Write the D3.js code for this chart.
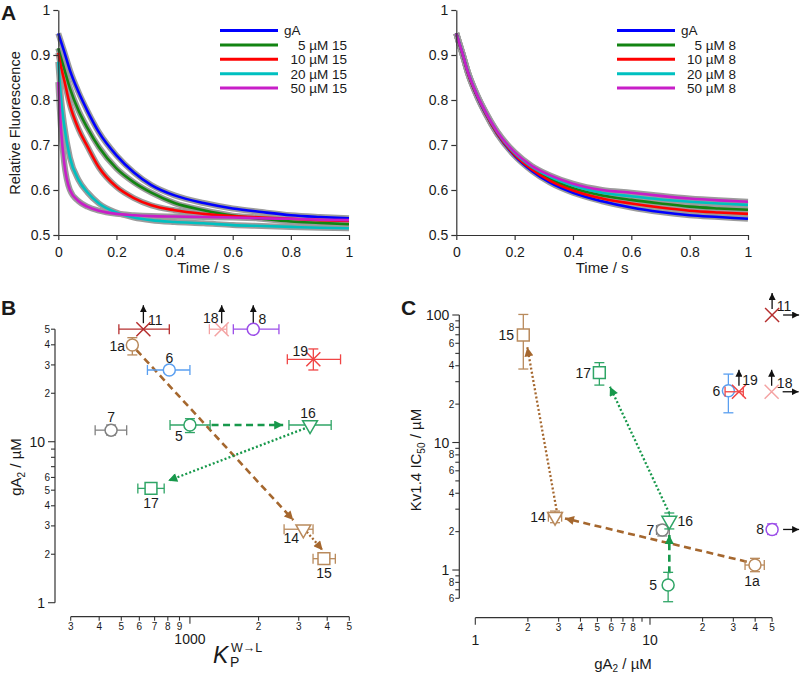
<!DOCTYPE html>
<html><head><meta charset="utf-8">
<script src="https://cdn.jsdelivr.net/npm/d3@7"></script>
<style>
body{margin:0;background:#fff}
svg{display:block}
text{font-family:"Liberation Sans",Arial,sans-serif;fill:#1a1a1a}
</style>
</head><body>
<svg id="chart" width="800" height="676"></svg>
<script>
// ---------------- DATA ----------------
// Panel A: time points (s) and relative fluorescence
const aTime = [0,0.01,0.02,0.04,0.07,0.1,0.14,0.2,0.26,0.32,0.4,0.5,0.6,0.7,0.8,0.9,1];
const aTimeTicks = [0,0.2,0.4,0.6,0.8,1];
const aFluorTicks = [0.5,0.6,0.7,0.8,0.9,1];

const left_gA   = [0.948,0.928,0.908,0.866,0.817,0.776,0.728,0.677,0.639,0.611,0.588,0.571,0.559,0.551,0.544,0.540,0.537];
const left_5uM  = [0.915,0.892,0.870,0.826,0.776,0.738,0.695,0.648,0.617,0.594,0.571,0.555,0.543,0.536,0.530,0.527,0.524];
const left_10uM = [0.905,0.872,0.845,0.789,0.735,0.697,0.650,0.607,0.582,0.566,0.555,0.547,0.542,0.539,0.536,0.533,0.531];
const left_20uM = [0.885,0.800,0.745,0.672,0.622,0.595,0.570,0.550,0.539,0.533,0.529,0.526,0.522,0.520,0.518,0.516,0.515];
const left_50uM = [0.840,0.730,0.662,0.600,0.575,0.563,0.554,0.547,0.544,0.542,0.541,0.540,0.539,0.537,0.536,0.534,0.533];

const right_gA   = [0.948,0.926,0.905,0.860,0.810,0.770,0.725,0.676,0.642,0.617,0.594,0.575,0.561,0.551,0.544,0.540,0.536];
const right_5uM  = [0.948,0.926,0.905,0.861,0.811,0.772,0.727,0.680,0.648,0.625,0.604,0.588,0.578,0.570,0.563,0.559,0.556];
const right_10uM = [0.948,0.926,0.905,0.860,0.811,0.771,0.726,0.678,0.645,0.621,0.599,0.581,0.570,0.561,0.554,0.550,0.547];
const right_20uM = [0.948,0.927,0.906,0.862,0.813,0.773,0.729,0.682,0.651,0.630,0.610,0.594,0.586,0.579,0.574,0.570,0.567];
const right_50uM = [0.948,0.927,0.906,0.862,0.813,0.774,0.730,0.684,0.653,0.633,0.614,0.600,0.594,0.587,0.581,0.577,0.574];

const legendLeft  = ["gA","5 µM 15","10 µM 15","20 µM 15","50 µM 15"];
const legendRight = ["gA","5 µM 8","10 µM 8","20 µM 8","50 µM 8"];

// Panel B: Kp(W->L) vs gA2 (µM)
const bIds   = ["11","18","8","1a","6","19","7","5","16","17","14","15"];
const bKp    = [625,1378,1896,559,812,3477,451,1000,3364,675,3144,3870];
const bKpLo  = [488,1217,1550,null,651,2674,384,818,2718,591,2588,3467];
const bKpHi  = [812,1451,2457,null,1000,4577,528,1226,4164,771,3467,4342];
const bGA    = [50,50,50,39.9,27.9,32.5,11.8,12.7,12.7,5.13,2.86,1.877];
const bGALo  = [null,null,null,34.6,null,27.9,11.0,11.4,null,null,null,null];
const bGAHi  = [null,null,null,44.3,null,37.7,12.7,13.9,null,null,null,null];
const bBoundUp = ["11","18","8"];
const bXTicks  = [300,400,500,600,700,800,900,1000,2000,3000,4000,5000];
const bXLabels = ["3","4","5","6","7","8","9","1000","2","3","4","5"];
const bXMajor  = [1000];
const bYTicks  = [1,2,3,4,5,6,7,8,9,10,20,30,40,50];
const bYLabels = ["1","2","3","4","5","6","","","","10","2","3","4","5"];
const bYMajor  = [1,10];
// trend arrows in B (from -> to)
const bArrFromK = [583,3253,1244,3192];
const bArrFromG = [37.1,2.76,12.7,12.1];
const bArrToK   = [2840,3820,2564,803];
const bArrToG   = [3.26,2.12,12.7,5.72];
const bArrKind  = ["brownDash","brownDot","greenDash","greenDot"];

// Panel C: gA2 (µM) vs Kv1.4 IC50 (µM)
const cIds   = ["15","17","6","19","18","11","8","14","7","16","1a","5"];
const cGA    = [1.883,5.13,28.1,32.3,49.7,50,50,2.86,11.76,12.9,39.9,12.7];
const cGALo  = [null,null,null,26.9,null,null,null,2.62,10.9,null,35.0,null];
const cGAHi  = [null,null,null,34.2,null,null,null,3.12,12.9,null,45.1,null];
const cIC    = [69.7,35.3,25.5,25.0,25.0,100,2.08,2.62,2.06,2.44,1.094,0.763];
const cICLo  = [37.7,28.2,17.1,null,null,null,1.9,2.35,1.85,2.1,0.97,0.564];
const cICHi  = [101,42.3,34.4,null,null,null,2.3,2.9,2.25,2.8,1.235,0.959];
const cBoundUp    = ["11","19","18"];
const cBoundRight = ["11","18","8"];
const cXTicks  = [1,2,3,4,5,6,7,8,9,10,20,30,40,50];
const cXLabels = ["1","2","3","4","5","6","7","8","","10","2","3","4","5"];
const cXMajor  = [1,10];
const cYTicks  = [0.6,0.7,0.8,0.9,1,2,3,4,5,6,7,8,9,10,20,30,40,50,60,70,80,90,100];
const cYLabels = ["6","","8","","1","2","","4","","6","","8","","10","2","","4","","6","","8","","100"];
const cYMajor  = [1,10,100];
const cArrFromG  = [35.8,2.92,12.9,12.9];
const cArrFromIC = [1.162,2.95,2.78,0.942];
const cArrToG    = [3.26,1.985,5.9,12.9];
const cArrToIC   = [2.54,55.8,27.4,1.88];
const cArrKind   = ["brownDash","brownDot","greenDot","greenDash"];

// ---------------- STYLE ----------------
const aColors = ["#0000ff","#128412","#ff0000","#00c0c0","#c81ec8"];
const axisColor = "#333";
const compStyle = {
  "1a":{c:"#b98a5c",s:"circle"}, "5":{c:"#2fa566",s:"circle"}, "6":{c:"#5a9ff0",s:"circle"},
  "7":{c:"#808080",s:"circle"}, "8":{c:"#9b4de8",s:"circle"}, "11":{c:"#b52f2f",s:"times"},
  "14":{c:"#b98a5c",s:"tridown"}, "15":{c:"#b98a5c",s:"square"}, "16":{c:"#2fa566",s:"tridown"},
  "17":{c:"#2fa566",s:"square"}, "18":{c:"#f4a3a3",s:"times"}, "19":{c:"#f04545",s:"times"}
};
const arrowStyle = {
  brownDash:{c:"#a5672e",w:2.6,dash:"7,4.5"}, brownDot:{c:"#a5672e",w:2.3,dash:"2,2.2"},
  greenDash:{c:"#17984b",w:2.6,dash:"7,4.5"}, greenDot:{c:"#17984b",w:2.3,dash:"2,2.2"}
};
const bLabelOff = {"11":[12,-9],"18":[-11,-11],"8":[9,-10],"1a":[-15,1],"6":[0,-12],"19":[-13,-8],
  "7":[0,-13],"5":[-11,11],"16":[-2,-12],"17":[0,15],"14":[-12,9],"15":[0,14]};
const cLabelOff = {"15":[-17,0],"17":[-16,0],"6":[-12,0],"19":[11,-12],"18":[13,-9],"11":[12,-9],
  "8":[-12,0],"14":[-17,0],"7":[-12,0],"16":[16,0],"1a":[-3,16],"5":[-15,0]};

const svg = d3.select("#chart");
const defs = svg.append("defs");
function arrowHead(id,color,w,h){
  defs.append("marker").attr("id",id).attr("viewBox","0 0 10 10").attr("refX",10).attr("refY",5)
    .attr("markerUnits","userSpaceOnUse").attr("markerWidth",w).attr("markerHeight",h).attr("orient","auto")
    .append("path").attr("d","M0,0L10,5L0,10Z").attr("fill",color);
}
arrowHead("ahBrown","#a5672e",11,9);
arrowHead("ahGreen","#17984b",11,9);
arrowHead("ahBlack","#111",7,7);
const headFor = k => k.startsWith("brown") ? "url(#ahBrown)" : "url(#ahGreen)";

// ---------------- PANEL A ----------------
function drawA(xr, curves, labels, legLine, legTextStart, legTextEnd, withTitle){
  const g = svg.append("g");
  const x = d3.scaleLinear([0,1], xr);
  const y = d3.scaleLinear([0.5,1], [235,10]);
  const line = d3.line().x((d,i)=>x(aTime[i])).y(d=>y(d)).curve(d3.curveMonotoneX);
  curves.forEach(c => g.append("path").attr("d",line(c)).attr("fill","none")
    .attr("stroke","#9c9c9c").attr("stroke-width",6).attr("stroke-linejoin","round"));
  curves.forEach((c,i) => g.append("path").attr("d",line(c)).attr("fill","none")
    .attr("stroke",aColors[i]).attr("stroke-width",2.6));
  const fmt = d3.format("~g");
  const ax = g.append("g").attr("transform","translate(0,235)")
    .call(d3.axisBottom(x).tickValues(aTimeTicks).tickFormat(fmt).tickSize(5).tickSizeOuter(0));
  const ay = g.append("g").attr("transform",`translate(${xr[0]},0)`)
    .call(d3.axisLeft(y).tickValues(aFluorTicks).tickFormat(fmt).tickSize(5).tickSizeOuter(0));
  [ax,ay].forEach(a=>{
    a.selectAll("path,line").attr("stroke",axisColor).attr("stroke-width",1.2);
    a.selectAll("text").attr("font-size",14).attr("font-family","Liberation Sans, Arial, sans-serif").attr("fill","#1a1a1a");
  });
  ax.selectAll("text").attr("dy","1em");
  g.append("text").attr("x",(xr[0]+xr[1])/2).attr("y",273).attr("text-anchor","middle").attr("font-size",15).text("Time / s");
  if(withTitle){
    g.append("text").attr("transform","translate(20,123) rotate(-90)").attr("text-anchor","middle")
      .attr("font-size",14.5).text("Relative Fluorescence");
  }
  labels.forEach((lab,i)=>{
    const yy = 30.5 + i*14.4;
    g.append("line").attr("x1",legLine[0]).attr("x2",legLine[1]).attr("y1",yy).attr("y2",yy)
      .attr("stroke",aColors[i]).attr("stroke-width",3);
    const t = g.append("text").attr("y",yy).attr("dy","0.36em").attr("font-size",13.5).text(lab);
    if(i===0) t.attr("x",legTextStart).attr("text-anchor","start");
    else t.attr("x",legTextEnd).attr("text-anchor","end");
  });
}
drawA([58.3,349], [left_gA,left_5uM,left_10uM,left_20uM,left_50uM], legendLeft, [220,278], 284, 347, true);
drawA([456.3,748], [right_gA,right_5uM,right_10uM,right_20uM,right_50uM], legendRight, [617,675], 681, 736, false);

// ---------------- log axes helpers ----------------
function logAxisLeft(g, scale, xPos, domain, ticks, labels, majors){
  g.append("line").attr("x1",xPos).attr("x2",xPos).attr("y1",scale(domain[0])).attr("y2",scale(domain[1]))
    .attr("stroke",axisColor).attr("stroke-width",1.2);
  ticks.forEach((t,i)=>{
    const maj = majors.includes(t), yy = scale(t);
    g.append("line").attr("x1",xPos).attr("x2",xPos-(maj?7:4)).attr("y1",yy).attr("y2",yy)
      .attr("stroke",axisColor).attr("stroke-width",1.1);
    if(labels[i]) g.append("text").attr("x",xPos-(maj?10:5)).attr("y",yy).attr("dy","0.36em")
      .attr("text-anchor","end").attr("font-size",maj?14:10).text(labels[i]);
  });
}
function logAxisBottom(g, scale, yPos, domain, ticks, labels, majors){
  g.append("line").attr("y1",yPos).attr("y2",yPos).attr("x1",scale(domain[0])).attr("x2",scale(domain[1]))
    .attr("stroke",axisColor).attr("stroke-width",1.2);
  ticks.forEach((t,i)=>{
    const maj = majors.includes(t), xx = scale(t);
    g.append("line").attr("x1",xx).attr("x2",xx).attr("y1",yPos).attr("y2",yPos+(maj?7:4))
      .attr("stroke",axisColor).attr("stroke-width",1.1);
    if(labels[i]) g.append("text").attr("x",xx).attr("y",yPos+(maj?22:10)).attr("dy","0.36em")
      .attr("text-anchor","middle").attr("font-size",maj?14:10).text(labels[i]);
  });
}
function symbolPath(shape){
  const times = d3.symbolTimes || d3.symbolX || d3.symbolCross;
  if(shape==="circle") return d3.symbol(d3.symbolCircle,113)();
  if(shape==="square") return d3.symbol(d3.symbolSquare,140)();
  if(shape==="tridown") return d3.symbol(d3.symbolTriangle,95)();
  return d3.symbol(times,130)();
}
function drawPoints(g, ids, xs, xLo, xHi, ys, yLo, yHi, sx, sy, offs){
  ids.forEach((id,i)=>{
    const st = compStyle[id], px = sx(xs[i]), py = sy(ys[i]);
    const eb = g.append("g").attr("stroke",st.c).attr("stroke-width",1.3).attr("fill","none");
    if(xLo[i]!=null){
      const a = sx(xLo[i]), b = sx(xHi[i]);
      eb.append("line").attr("x1",a).attr("x2",b).attr("y1",py).attr("y2",py);
      [a,b].forEach(v=>eb.append("line").attr("x1",v).attr("x2",v).attr("y1",py-5).attr("y2",py+5));
    }
    if(yLo[i]!=null){
      const a = sy(yLo[i]), b = sy(yHi[i]);
      eb.append("line").attr("x1",px).attr("x2",px).attr("y1",a).attr("y2",b);
      [a,b].forEach(v=>eb.append("line").attr("x1",px-5).attr("x2",px+5).attr("y1",v).attr("y2",v));
    }
    const rot = st.s==="tridown" ? " rotate(180)" : "";
    g.append("path").attr("d",symbolPath(st.s)).attr("transform",`translate(${px},${py})${rot}`)
      .attr("fill", st.s==="times" ? "none" : "#fff").attr("stroke",st.c).attr("stroke-width",1.5);
    const o = offs[id];
    g.append("text").attr("x",px+o[0]).attr("y",py+o[1]).attr("dy","0.36em").attr("text-anchor","middle")
      .attr("font-size",14).text(id);
  });
}
function boundArrow(g, x1,y1,x2,y2){
  g.append("line").attr("x1",x1).attr("y1",y1).attr("x2",x2).attr("y2",y2)
    .attr("stroke","#111").attr("stroke-width",1.3).attr("marker-end","url(#ahBlack)");
}
function trendArrows(g, fx, fy, tx, ty, kinds, sx, sy){
  kinds.forEach((k,i)=>{
    const st = arrowStyle[k];
    g.append("line").attr("x1",sx(fx[i])).attr("y1",sy(fy[i])).attr("x2",sx(tx[i])).attr("y2",sy(ty[i]))
      .attr("stroke",st.c).attr("stroke-width",st.w).attr("stroke-dasharray",st.dash)
      .attr("marker-end",headFor(k));
  });
}

// ---------------- PANEL B ----------------
{
  const g = svg.append("g");
  const x = d3.scaleLog([300,5000],[70.7,349.3]);
  const y = d3.scaleLog([1,50],[602.7,329.2]);
  logAxisLeft(g, y, 55, [1,50], bYTicks, bYLabels, bYMajor);
  logAxisBottom(g, x, 616.7, [300,5000], bXTicks, bXLabels, bXMajor);
  trendArrows(g, bArrFromK, bArrFromG, bArrToK, bArrToG, bArrKind, x, y);
  bIds.forEach((id,i)=>{ if(bBoundUp.includes(id)){ const px=x(bKp[i]), py=y(bGA[i]); boundArrow(g,px,py-6,px,py-24);} });
  drawPoints(g, bIds, bKp, bKpLo, bKpHi, bGA, bGALo, bGAHi, x, y, bLabelOff);
  const yt = g.append("text").attr("transform","translate(21,467) rotate(-90)").attr("text-anchor","middle").attr("font-size",15);
  yt.append("tspan").text("gA");
  yt.append("tspan").attr("dy",4).attr("font-size",10).text("2");
  yt.append("tspan").attr("dy",-4).text(" / µM");
  g.append("text").attr("x",213).attr("y",663).attr("font-size",23).attr("font-style","italic").text("K");
  g.append("text").attr("x",230).attr("y",667).attr("font-size",14).text("P");
  g.append("text").attr("x",231).attr("y",652).attr("font-size",12.5).text("W→L");
}

// ---------------- PANEL C ----------------
{
  const g = svg.append("g");
  const x = d3.scaleLog([1,50],[475.3,772.1]);
  const y = d3.scaleLog([0.6,100],[598.3,315]);
  logAxisLeft(g, y, 459.3, [0.6,100], cYTicks, cYLabels, cYMajor);
  logAxisBottom(g, x, 617.7, [1,50], cXTicks, cXLabels, cXMajor);
  trendArrows(g, cArrFromG, cArrFromIC, cArrToG, cArrToIC, cArrKind, x, y);
  cIds.forEach((id,i)=>{
    const px=x(cGA[i]), py=y(cIC[i]);
    if(cBoundUp.includes(id)) boundArrow(g,px,py-6,px,py-22);
    if(cBoundRight.includes(id)) boundArrow(g,px+11,py,px+27,py);
  });
  drawPoints(g, cIds, cGA, cGALo, cGAHi, cIC, cICLo, cICHi, x, y, cLabelOff);
  const xt = g.append("text").attr("x",623).attr("y",669).attr("text-anchor","middle").attr("font-size",15);
  xt.append("tspan").text("gA");
  xt.append("tspan").attr("dy",3).attr("font-size",10).text("2");
  xt.append("tspan").attr("dy",-3).text(" / µM");
  const yt = g.append("text").attr("transform","translate(421,460) rotate(-90)").attr("text-anchor","middle").attr("font-size",15);
  yt.append("tspan").text("Kv1.4 IC");
  yt.append("tspan").attr("dy",4).attr("font-size",10).text("50");
  yt.append("tspan").attr("dy",-4).text(" / µM");
}

// panel letters
[["A",1,20],["B",1,315],["C",401,315]].forEach(([t,xx,yy])=>
  svg.append("text").attr("x",xx).attr("y",yy).attr("font-size",21).attr("font-weight","bold").text(t));
</script>
</body></html>
